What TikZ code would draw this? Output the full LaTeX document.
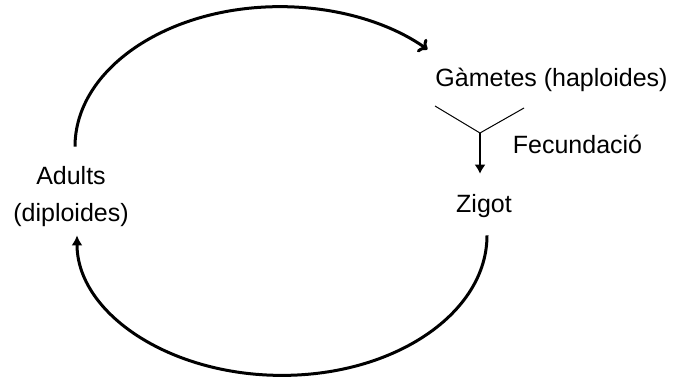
\documentclass[tikz,border=0pt]{standalone}
\usepackage{fontspec}
\setmainfont{Liberation Sans}
\usepackage{tikz}
\usetikzlibrary{arrows.meta,positioning}

\begin{document}
\begin{tikzpicture}[x=1pt,y=1pt,>=Latex]
\tikzset{lbl/.style={font=\fontsize{25}{37}\selectfont,inner sep=0pt,align=center},
  cycle/.style={line width=3pt},
  thin line/.style={line width=1pt}}
\useasboundingbox (0,0) rectangle (679,378);
\node[lbl,anchor=base] (gametes) at (551.5,291) {Gàmetes (haploides)};
\node[lbl,anchor=base] (fecund) at (577.5,225) {Fecundació};
\node[lbl,anchor=base] (zigot) at (484,166) {Zigot};
\node[lbl] (adults) at (71,181) {Adults\\(diploides)};
% fecundacio
\coordinate (gl) at (435,272);
\coordinate (gr) at (524,270);
\coordinate (join) at (480,245);
\draw[thin line] (gl) -- (join) -- (gr);
\draw[line width=1.6pt,-{Latex[length=9pt,width=11pt]},shorten >=20pt] (join) -- (join |- zigot.north);
% cicle
\draw[cycle,-{To[length=8pt,width=16pt,line width=3pt]}] ([xshift=4pt,yshift=20pt]adults.north)
  arc[start angle=180,end angle=44,x radius=205,y radius=140];
\draw[cycle,-{Latex[length=10pt,width=11pt]}] ([xshift=3pt,yshift=-18pt]zigot.south)
  arc[start angle=0,end angle=-180,x radius=205,y radius=140];
\end{tikzpicture}
\end{document}
